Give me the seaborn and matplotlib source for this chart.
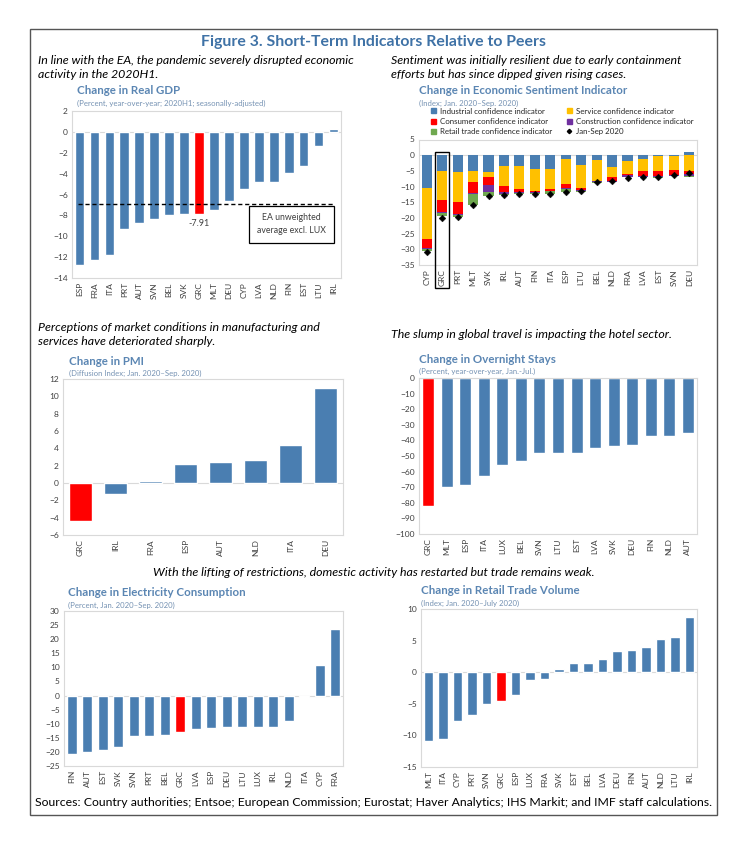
import numpy as np
import pandas as pd
import matplotlib
matplotlib.use("Agg")
import matplotlib.pyplot as plt
import matplotlib.patches as patches
import matplotlib.transforms as mtransforms
from matplotlib.lines import Line2D
import seaborn as sns

# ---- data ----
gdp_countries = ["ESP", "FRA", "ITA", "PRT", "AUT", "SVN", "BEL", "SVK", "GRC",
                 "MLT", "DEU", "CYP", "LVA", "NLD", "FIN", "EST", "LTU", "IRL"]
gdp_values = [-12.8, -12.3, -11.8, -9.3, -8.7, -8.3, -7.95, -7.9, -7.91,
              -7.45, -6.65, -5.5, -4.8, -4.8, -3.9, -3.3, -1.35, 0.3]
gdp_ea_avg = -6.9

esi_countries = ["CYP", "GRC", "PRT", "MLT", "SVK", "IRL", "AUT", "FIN", "ITA",
                 "ESP", "LTU", "BEL", "NLD", "FRA", "LVA", "EST", "SVN", "DEU"]
esi_industrial = [-10.4, -5.1, -5.3, -5.1, -5.5, -3.4, -3.4, -4.3, -4.3,
                  -1.3, -3.2, -1.6, -3.8, -1.7, -1.3, -0.3, -0.2, 0.9]
esi_service = [-16.2, -9.3, -9.6, -3.6, -1.4, -6.4, -7.5, -7.1, -6.6,
               -8.0, -7.2, -6.5, -3.3, -4.2, -3.7, -4.6, -4.6, -5.1]
esi_consumer = [-3.0, -3.7, -4.0, -3.5, -2.5, -1.9, -0.8, -0.3, -0.4,
                -1.3, -0.7, -0.2, -1.1, -0.3, -1.7, -1.7, -1.5, -0.9]
esi_construction = [-0.4, -0.3, -0.2, -0.3, -2.3, -0.8, -0.4, -0.2, -0.2,
                    -0.3, -0.2, -0.2, -0.2, -0.7, -0.3, -0.5, -0.3, -0.7]
esi_retail = [-0.4, -1.0, -0.5, -3.5, -1.3, -0.2, -0.4, -0.4, -0.8,
              -0.8, -0.3, -0.3, -0.2, -0.2, -0.1, -0.1, -0.1, -0.1]
esi_total = [-31.0, -20.0, -19.8, -16.0, -13.0, -12.7, -12.3, -12.3, -12.3,
             -11.7, -11.5, -8.7, -8.3, -7.3, -7.1, -7.0, -6.4, -5.7]

pmi_countries = ["GRC", "IRL", "FRA", "ESP", "AUT", "NLD", "ITA", "DEU"]
pmi_values = [-4.35, -1.27, 0.19, 2.23, 2.46, 2.65, 4.35, 10.96]

stays_countries = ["GRC", "MLT", "ESP", "ITA", "LUX", "BEL", "SVN", "LTU",
                   "EST", "LVA", "SVK", "DEU", "FIN", "NLD", "AUT"]
stays_values = [-82.2, -70.0, -68.7, -62.7, -55.8, -53.2, -48.1, -48.1,
                -47.9, -45.1, -43.8, -43.1, -37.3, -37.1, -35.0]

elec_countries = ["FIN", "AUT", "EST", "SVK", "SVN", "PRT", "BEL", "GRC", "LVA",
                  "ESP", "DEU", "LTU", "LUX", "IRL", "NLD", "ITA", "CYP", "FRA"]
elec_values = [-20.6, -20.1, -19.4, -18.3, -14.5, -14.3, -14.0, -13.1, -12.0,
               -11.6, -11.2, -11.2, -11.0, -11.0, -8.9, -0.5, 11.0, 23.7]

retail_countries = ["MLT", "ITA", "CYP", "PRT", "SVN", "GRC", "ESP", "LUX", "FRA", "SVK",
                    "EST", "BEL", "LVA", "DEU", "FIN", "AUT", "NLD", "LTU", "IRL"]
retail_values = [-10.9, -10.6, -7.8, -6.7, -5.0, -4.5, -3.6, -1.3, -1.1, 0.5,
                 1.4, 1.5, 2.1, 3.3, 3.5, 4.0, 5.3, 5.5, 8.7]

BLUE = "#4a7eb1"
RED = "#ff0000"
YELLOW = "#ffc000"
PURPLE = "#7030a0"
GREEN = "#6fa84f"
TITLE_C = "#3f72a6"
CHART_T = "#5b86b3"
SUB_C = "#7592b3"
TICK_C = "#404040"

sns.set_style("white")
plt.rcParams["font.family"] = ["Lato", "DejaVu Sans"]

W, H = 740, 843
fig = plt.figure(figsize=(W / 100, H / 100), dpi=100)


def px_rect(l, t, r, b):
    return [l / W, 1 - b / H, (r - l) / W, (b - t) / H]


def fx(x):
    return x / W


def fy(y):
    return 1 - y / H


def style_ax(ax, ylim, step):
    ax.set_ylim(*ylim)
    ax.set_yticks(np.arange(ylim[0], ylim[1] + 0.01, step))
    ax.tick_params(axis="both", length=0, labelsize=6, colors=TICK_C, pad=3)
    ax.tick_params(axis="x", labelrotation=90)
    for s in ax.spines.values():
        s.set_color("#d9d9d9")
        s.set_linewidth(0.8)
    ax.set_xlabel("")
    ax.set_ylabel("")
    ax.axhline(0, color="#d9d9d9", lw=0.8, zorder=0)


def simple_bars(ax, countries, values, ylim, step):
    df = pd.DataFrame({"country": countries, "value": values})
    pal = {c: (RED if c == "GRC" else BLUE) for c in countries}
    sns.barplot(data=df, x="country", y="value", hue="country", palette=pal,
                legend=False, width=0.65, saturation=1, ax=ax)
    ax.set_xlim(-0.5, len(countries) - 0.5)
    style_ax(ax, ylim, step)


def chart_title(x, y, title, sub):
    fig.text(fx(x), fy(y), title, color=CHART_T, fontsize=8.3, fontweight="bold",
             va="center", ha="left")
    fig.text(fx(x), fy(y + 12), sub, color=SUB_C, fontsize=5.6, va="center", ha="left")


# ---- outer frame, titles ----
fig.patches.append(patches.Rectangle((fx(30), fy(815)), fx(717) - fx(30), fy(29) - fy(815),
                                     transform=fig.transFigure, fill=False,
                                     ec="#555555", lw=1))
fig.text(0.5045, fy(42), "Figure 3. Short-Term Indicators Relative to Peers",
         color=TITLE_C, fontsize=11.4, fontweight="bold", ha="center", va="center")

cap = dict(fontsize=8.9, style="italic", color="black", va="center", ha="left")
fig.text(fx(38), fy(67.5), "In line with the EA, the pandemic severely disrupted economic\nactivity in the 2020H1.",
         linespacing=1.35, **cap)
fig.text(fx(391), fy(67.5), "Sentiment was initially resilient due to early containment\nefforts but has since dipped given rising cases.",
         linespacing=1.35, **cap)
fig.text(fx(38), fy(334.5), "Perceptions of market conditions in manufacturing and\nservices have deteriorated sharply.",
         linespacing=1.35, **cap)
fig.text(fx(391), fy(334), "The slump in global travel is impacting the hotel sector.", **cap)
fig.text(0.505, fy(572), "With the lifting of restrictions, domestic activity has restarted but trade remains weak.",
         fontsize=8.9, style="italic", color="black", va="center", ha="center")
fig.text(fx(35), fy(803), "Sources: Country authorities; Entsoe; European Commission; Eurostat; Haver Analytics; IHS Markit; and IMF staff calculations.",
         fontsize=8.8, color="black", va="center", ha="left")

# ---- Real GDP ----
ax1 = fig.add_axes(px_rect(72, 111, 341, 278))
simple_bars(ax1, gdp_countries, gdp_values, (-14, 2), 2)
ax1.hlines(gdp_ea_avg, -0.1, 17.0, colors="black", linestyles=(0, (3, 2)), lw=1, zorder=5)
gi = gdp_countries.index("GRC")
ax1.annotate(f"{gdp_values[gi]:.2f}", (gi, gdp_values[gi]), xytext=(0, -3),
             textcoords="offset points", ha="center", va="top", fontsize=6.5, color=TICK_C)
ax1.text(14.2, -8.85, "EA unweighted\naverage excl. LUX", ha="center", va="center",
         fontsize=6.3, color=TICK_C, linespacing=1.5,
         bbox=dict(boxstyle="square,pad=0.9", fc="white", ec="black", lw=0.9))
chart_title(77, 91, "Change in Real GDP", "(Percent, year-over-year; 2020H1; seasonally-adjusted)")

# ---- Economic Sentiment Indicator (stacked) ----
ax2 = fig.add_axes(px_rect(419, 139.5, 697, 265))
x = np.arange(len(esi_countries))
components = [(esi_industrial, BLUE, "Industrial confidence indicator"),
              (esi_service, YELLOW, "Service confidence indicator"),
              (esi_consumer, RED, "Consumer confidence indicator"),
              (esi_construction, PURPLE, "Construction confidence indicator"),
              (esi_retail, GREEN, "Retail trade confidence indicator")]
neg_base = np.zeros(len(x))
pos_base = np.zeros(len(x))
handles = {}
for vals, col, lab in components:
    vals = np.array(vals)
    bottom = np.where(vals < 0, neg_base, pos_base)
    ax2.bar(x, vals, bottom=bottom, width=0.65, color=col, lw=0, zorder=2)
    neg_base = neg_base + np.minimum(vals, 0)
    pos_base = pos_base + np.maximum(vals, 0)
    handles[lab] = patches.Patch(color=col, label=lab)
sns.scatterplot(x=x, y=esi_total, marker="D", s=12, color="black", edgecolor="black",
                ax=ax2, zorder=4, legend=False)
ax2.set_xticks(x)
ax2.set_xticklabels(esi_countries)
ax2.set_xlim(-0.5, len(x) - 0.5)
style_ax(ax2, (-35, 5), 5)
blend = mtransforms.blended_transform_factory(ax2.transData, ax2.transAxes)
ax2.add_patch(patches.Rectangle((0.56, -0.18), 0.88, 1.078, transform=blend, fill=False,
                                ec="black", lw=1, clip_on=False, zorder=6))
chart_title(419, 91, "Change in Economic Sentiment Indicator", "(Index; Jan. 2020\u2013Sep. 2020)")
diamond = Line2D([], [], marker="D", color="black", ls="", markersize=2.2, label="Jan-Sep 2020")
leg_handles = [handles["Industrial confidence indicator"], handles["Consumer confidence indicator"],
               handles["Retail trade confidence indicator"], handles["Service confidence indicator"],
               handles["Construction confidence indicator"], diamond]
fig.legend(handles=leg_handles, loc="upper left", bbox_to_anchor=(fx(431), fy(107.5)),
           ncol=2, frameon=False, fontsize=5.7, handlelength=0.6, handleheight=0.6,
           handletextpad=0.5, columnspacing=1.9, labelspacing=0.42, borderpad=0,
           borderaxespad=0)

# ---- PMI ----
ax3 = fig.add_axes(px_rect(63, 379, 343, 535))
simple_bars(ax3, pmi_countries, pmi_values, (-6, 12), 2)
chart_title(69, 361, "Change in PMI", "(Diffusion Index; Jan. 2020\u2013Sep. 2020)")

# ---- Overnight stays ----
ax4 = fig.add_axes(px_rect(419, 378, 697, 534))
simple_bars(ax4, stays_countries, stays_values, (-100, 0), 10)
chart_title(419, 359, "Change in Overnight Stays", "(Percent, year-over-year, Jan.-Jul.)")

# ---- Electricity ----
ax5 = fig.add_axes(px_rect(64, 611, 343, 766))
simple_bars(ax5, elec_countries, elec_values, (-25, 30), 5)
chart_title(68, 593, "Change in Electricity Consumption", "(Percent, Jan. 2020\u2013Sep. 2020)")

# ---- Retail trade ----
ax6 = fig.add_axes(px_rect(421, 609, 697, 767))
simple_bars(ax6, retail_countries, retail_values, (-15, 10), 5)
chart_title(421, 591, "Change in Retail Trade Volume", "(Index; Jan. 2020\u2013July 2020)")

fig.savefig("out.png", dpi=100, facecolor="white")
